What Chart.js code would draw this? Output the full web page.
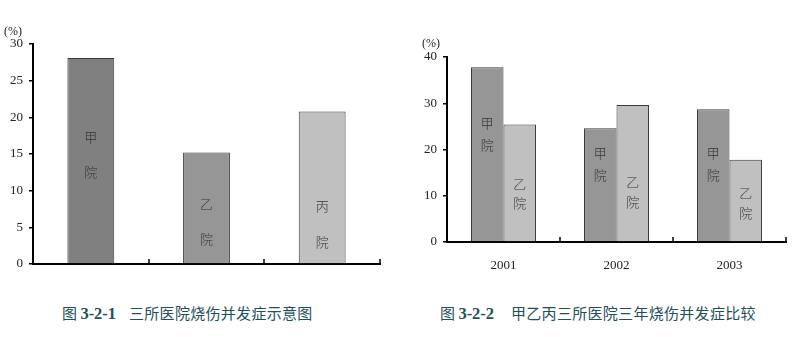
<!DOCTYPE html>
<html>
<head>
<meta charset="utf-8">
<script src="https://cdn.jsdelivr.net/npm/chart.js@4.4.0/dist/chart.umd.min.js"></script>
<style>
  html, body { margin:0; padding:0; background:#fff; }
  body { width:795px; height:337px; position:relative; overflow:hidden; }
  .c { position:absolute; top:0; }
  .unit { position:absolute; font-family:"Liberation Serif", serif; font-size:12px; color:#222; }
  .cap { position:absolute; top:302px; font-family:"Noto Sans CJK SC", sans-serif; font-size:15px; color:#22505a; white-space:pre; }
  .cap b { font-family:"Liberation Serif", serif; font-size:16.5px; font-weight:bold; }
  .ct { letter-spacing:0.3px; }
</style>
</head>
<body>
<div class="c" style="left:0;width:390px;height:285px"><canvas id="c1"></canvas></div>
<div class="c" style="left:390px;width:405px;height:285px"><canvas id="c2"></canvas></div>
<div class="unit" style="left:4px;top:24px">(%)</div>
<div class="unit" style="left:422px;top:36px">(%)</div>
<div class="cap" style="left:62px">图 <b>3-2-1</b></div>
<div class="cap ct" style="left:129px">三所医院烧伤并发症示意图</div>
<div class="cap" style="left:440px">图 <b>3-2-2</b></div>
<div class="cap ct" style="left:511px">甲乙丙三所医院三年烧伤并发症比较</div>
<script>
// ---- data ----
const hospitals1 = ['甲院', '乙院', '丙院'];
const rates1 = [28.1, 15.2, 20.8];
const yTicks1 = [0, 5, 10, 15, 20, 25, 30];

const years2 = ['2001', '2002', '2003'];
const rateJia = [37.8, 24.6, 28.7];
const rateYi = [25.4, 29.6, 17.8];
const yTicks2 = [0, 10, 20, 30, 40];

// label anchors (data units) for the vertical in-bar text
const label1Pos = [[17.3, 12.5], [8.2, 3.4], [7.9, 3.0]];
const labelJiaPos = [[25.7, 20.9], [19.2, 14.4], [19.2, 14.4]];
const labelYiPos = [[12.5, 8.4], [12.9, 8.6], [10.5, 6.2]];

const TICK_FONT = { family: 'Liberation Serif', size: 13 };

const inBarLabels = {
  id: 'inBarLabels',
  afterDatasetsDraw(chart, args, opts) {
    const ctx = chart.ctx, y = chart.scales.y;
    ctx.save();
    ctx.font = '300 13px "Noto Sans CJK SC"';
    ctx.fillStyle = '#333';
    ctx.textAlign = 'center';
    ctx.textBaseline = 'middle';
    chart.data.datasets.forEach((ds, di) => {
      const meta = chart.getDatasetMeta(di);
      meta.data.forEach((bar, i) => {
        const texts = opts.texts[di][i];
        const pos = opts.pos[di][i];
        texts.forEach((t, k) => ctx.fillText(t, bar.x, y.getPixelForValue(pos[k])));
      });
    });
    ctx.restore();
  }
};

const innerCatTicks = {
  id: 'innerCatTicks',
  afterDraw(chart) {
    const x = chart.scales.x, ctx = chart.ctx;
    const n = chart.data.labels.length, w = (x.right - x.left) / n;
    ctx.save();
    ctx.strokeStyle = '#000';
    ctx.lineWidth = 1.5;
    for (let i = 1; i <= n; i++) {
      const px = Math.round(x.left + i * w);
      ctx.beginPath();
      ctx.moveTo(px, x.top);
      ctx.lineTo(px, x.top - 5);
      ctx.stroke();
    }
    ctx.restore();
  }
};

function yScale(max, ticksArr, width) {
  return {
    min: 0, max: max,
    afterBuildTicks: s => { s.ticks = ticksArr.map(v => ({ value: v })); },
    ticks: { font: TICK_FONT, color: '#222', padding: 6 },
    grid: { display: true, drawOnChartArea: false, drawTicks: true, tickLength: 4, color: '#000', lineWidth: 1.5 },
    border: { display: true, color: '#000', width: 2 },
    afterFit: s => { s.width = width; }
  };
}

new Chart(document.getElementById('c1'), {
  type: 'bar',
  data: {
    labels: hospitals1,
    datasets: [{
      data: rates1,
      backgroundColor: ['#808080', '#969696', '#c0c0c0'],
      borderColor: '#3a3a3a',
      borderWidth: 1,
      categoryPercentage: 1,
      barPercentage: 0.405
    }]
  },
  options: {
    responsive: true, maintainAspectRatio: false, animation: false,
    layout: { padding: { top: 44, right: 10, left: 0, bottom: 0 } },
    plugins: {
      legend: { display: false }, tooltip: { enabled: false },
      inBarLabels: {
        texts: [[['甲', '院'], ['乙', '院'], ['丙', '院']]],
        pos: [label1Pos]
      }
    },
    scales: {
      x: {
        ticks: { display: false },
        grid: { display: false },
        border: { display: true, color: '#000', width: 2 },
        afterFit: s => { s.height = 21; }
      },
      y: yScale(30, yTicks1, 33)
    }
  },
  plugins: [inBarLabels, innerCatTicks]
});

new Chart(document.getElementById('c2'), {
  type: 'bar',
  data: {
    labels: years2,
    datasets: [
      { data: rateJia, backgroundColor: '#969696', borderColor: '#3a3a3a', borderWidth: 1, categoryPercentage: 0.575, barPercentage: 1 },
      { data: rateYi, backgroundColor: '#c0c0c0', borderColor: '#3a3a3a', borderWidth: 1, categoryPercentage: 0.575, barPercentage: 1 }
    ]
  },
  options: {
    responsive: true, maintainAspectRatio: false, animation: false,
    layout: { padding: { top: 57, right: 9, left: 0, bottom: 0 } },
    plugins: {
      legend: { display: false }, tooltip: { enabled: false },
      inBarLabels: {
        texts: [[['甲', '院'], ['甲', '院'], ['甲', '院']], [['乙', '院'], ['乙', '院'], ['乙', '院']]],
        pos: [labelJiaPos, labelYiPos]
      }
    },
    scales: {
      x: {
        ticks: { font: TICK_FONT, color: '#222', padding: 8 },
        grid: { display: false },
        border: { display: true, color: '#000', width: 2 },
        afterFit: s => { s.height = 43; }
      },
      y: yScale(40, yTicks2, 57)
    }
  },
  plugins: [inBarLabels, innerCatTicks]
});
</script>
</body>
</html>
